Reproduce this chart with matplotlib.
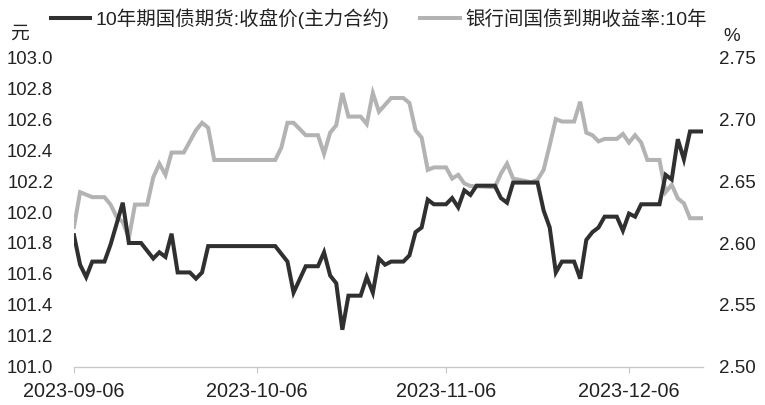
import numpy as np
import pandas as pd
import matplotlib
matplotlib.use("Agg")
import matplotlib.pyplot as plt
import matplotlib.dates as mdates

plt.rcParams['font.family'] = ['Liberation Sans', 'Noto Sans CJK SC', 'DejaVu Sans']

start = pd.Timestamp('2023-09-06')

# futures close (left axis), day offset from 2023-09-06
fut_day = [0, 1, 2, 3, 5, 6, 8, 9, 11, 13, 14, 15, 16, 17, 19, 20, 21, 22,
           33, 35, 36, 38, 40, 41, 42, 43, 44, 45, 47, 48, 49, 50, 51, 52, 54,
           55, 56, 57, 58, 59, 61, 62, 63, 64, 65, 66, 69, 70, 71, 72, 76, 77,
           78, 79, 80, 82, 83, 84, 85, 86, 87, 89, 90, 91, 92, 93, 96, 97, 98,
           99, 100, 101, 103]
fut_val = [101.85, 101.66, 101.58, 101.68, 101.68, 101.79, 102.06, 101.80, 101.80,
           101.70, 101.74, 101.71, 101.86, 101.61, 101.61, 101.57, 101.61, 101.78,
           101.78, 101.68, 101.48, 101.65, 101.65, 101.74, 101.59, 101.54, 101.24,
           101.46, 101.46, 101.58, 101.48, 101.70, 101.66, 101.68, 101.68, 101.72,
           101.87, 101.90, 102.08, 102.05, 102.05, 102.09, 102.03, 102.14, 102.11,
           102.17, 102.17, 102.09, 102.06, 102.19, 102.19, 102.01, 101.90, 101.61,
           101.68, 101.68, 101.57, 101.82, 101.87, 101.90, 101.97, 101.97, 101.88,
           101.99, 101.97, 102.05, 102.05, 102.24, 102.21, 102.47, 102.34, 102.52,
           102.52]

# 10y interbank treasury yield (right axis)
yld_day = [0, 1, 3, 5, 6, 7, 8, 9, 10, 12, 13, 14, 15, 16, 18, 20, 21, 22, 23,
           33, 34, 35, 36, 38, 40, 41, 42, 43, 44, 45, 47, 48, 49, 50, 52, 54,
           55, 56, 57, 58, 59, 61, 62, 63, 64, 65, 69, 70, 71, 72, 75, 76, 77,
           78, 79, 80, 82, 83, 84, 85, 86, 87, 89, 90, 91, 92, 93, 94, 96, 97,
           98, 99, 100, 101, 103]
yld_val = [2.613, 2.641, 2.637, 2.637, 2.631, 2.621, 2.617, 2.604, 2.631, 2.631,
           2.653, 2.664, 2.655, 2.673, 2.673, 2.691, 2.697, 2.693, 2.667, 2.667,
           2.677, 2.697, 2.697, 2.687, 2.687, 2.672, 2.689, 2.695, 2.721, 2.702,
           2.702, 2.696, 2.721, 2.706, 2.717, 2.717, 2.713, 2.691, 2.685, 2.659,
           2.661, 2.661, 2.652, 2.655, 2.648, 2.646, 2.645, 2.656, 2.664, 2.652,
           2.649, 2.651, 2.659, 2.679, 2.700, 2.698, 2.698, 2.714, 2.689, 2.687,
           2.682, 2.684, 2.684, 2.688, 2.681, 2.687, 2.681, 2.667, 2.667, 2.641,
           2.647, 2.636, 2.632, 2.620, 2.620]

tick_dates = ['2023-09-06', '2023-10-06', '2023-11-06', '2023-12-06']

fut_x = start + pd.to_timedelta(fut_day, unit='D')
yld_x = start + pd.to_timedelta(yld_day, unit='D')

fig = plt.figure(figsize=(7.65, 4.05), dpi=100)
ax = fig.add_axes([0.0967, 0.094, 0.822, 0.765])
ax2 = ax.twinx()
ax.set_zorder(ax2.get_zorder() + 1)
ax.patch.set_visible(False)

l1, = ax.plot(fut_x, fut_val, color='#303030', lw=2.9, solid_joinstyle='miter',
              label='10年期国债期货:收盘价(主力合约)')
l2, = ax2.plot(yld_x, yld_val, color='#b3b3b3', lw=2.9, solid_joinstyle='miter',
               label='银行间国债到期收益率:10年')

ax.set_ylim(101.0, 103.0)
ax.set_yticks(np.arange(101.0, 103.01, 0.2))
ax.yaxis.set_major_formatter(plt.FormatStrFormatter('%.1f'))
ax2.set_ylim(2.50, 2.75)
ax2.set_yticks(np.arange(2.50, 2.751, 0.05))
ax2.yaxis.set_major_formatter(plt.FormatStrFormatter('%.2f'))

ax.set_xlim(start, start + pd.Timedelta(days=103.1))
ax.set_xticks(pd.to_datetime(tick_dates))
ax.xaxis.set_major_formatter(mdates.DateFormatter('%Y-%m-%d'))

for a in (ax, ax2):
    for s in ('top', 'left', 'right', 'bottom'):
        a.spines[s].set_visible(False)
ax.spines['bottom'].set_visible(True)
ax.spines['bottom'].set_color('#c8c8c8')
ax.spines['bottom'].set_linewidth(1)

ax.tick_params(axis='x', length=4, color='#c8c8c8', pad=7, labelsize=14.3, labelcolor='#222222')
ax.tick_params(axis='y', length=0, pad=15, labelsize=13.3, labelcolor='#222222')
ax2.tick_params(axis='y', length=0, pad=12, labelsize=13.5, labelcolor='#222222')

fig.text(0.013, 0.915, '元', fontsize=13.5, color='#222222', va='center', ha='left')
fig.text(0.945, 0.91, '%', fontsize=13.5, color='#222222', va='center', ha='left')

fig.legend(handles=[l1, l2], loc='center', bbox_to_anchor=(0.495, 0.955), ncol=2,
           frameon=False, fontsize=14, handlelength=2.05, handletextpad=0.28,
           columnspacing=1.55, labelcolor='#222222')

fig.savefig('out.png', dpi=100)
